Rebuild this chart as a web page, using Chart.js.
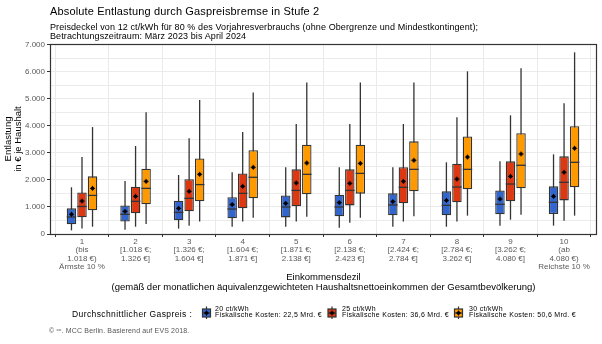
<!DOCTYPE html>
<html><head><meta charset="utf-8">
<script src="https://cdn.jsdelivr.net/npm/chart.js@4.4.1/dist/chart.umd.min.js"></script>
<style>
body{margin:0;width:602px;height:344px;overflow:hidden;background:#fff;font-family:"Liberation Sans",Arial,sans-serif;}
#wrap{position:relative;width:602px;height:344px;}
canvas{position:absolute;left:0;top:0;}
.t{position:absolute;white-space:nowrap;color:#000;}
</style></head><body>
<div id="wrap">
<canvas id="c" width="602" height="344"></canvas>
<div class="t" style="left:50px;top:5px;font-size:11px;line-height:12px;letter-spacing:0.15px;">Absolute Entlastung durch Gaspreisbremse in Stufe 2</div>
<div class="t" style="left:50px;top:22.5px;font-size:9px;line-height:9px;letter-spacing:0.1px;">Preisdeckel von 12 ct/kWh für 80 % des Vorjahresverbrauchs (ohne Obergrenze und Mindestkontingent);<br>Betrachtungszeitraum: März 2023 bis April 2024</div>
<div class="t" style="left:72px;top:309px;font-size:8.5px;line-height:10px;letter-spacing:0.4px;">Durchschnittlicher Gaspreis :</div>
<div class="t" style="left:215px;top:305.5px;font-size:7px;line-height:6.2px;letter-spacing:0.3px;">20 ct/kWh<br>Fiskalische Kosten: 22,5 Mrd. €</div>
<div class="t" style="left:342px;top:305.5px;font-size:7px;line-height:6.2px;letter-spacing:0.3px;">25 ct/kWh<br>Fiskalische Kosten: 36,6 Mrd. €</div>
<div class="t" style="left:469px;top:305.5px;font-size:7px;line-height:6.2px;letter-spacing:0.3px;">30 ct/kWh<br>Fiskalische Kosten: 50,6 Mrd. €</div>
<div class="t" style="left:49px;top:327px;font-size:7px;line-height:8px;color:#555;letter-spacing:0.15px;">© ᶜᶜ. MCC Berlin. Basierend auf EVS 2018.</div>
</div>
<script>
const decile = [1,2,3,4,5,6,7,8,9,10];
const tickLabels = [
  ["1","(bis","1.018 €)","Ärmste 10 %"],
  ["2","[1.018 €;","1.326 €]"],
  ["3","[1.326 €;","1.604 €]"],
  ["4","[1.604 €;","1.871 €]"],
  ["5","[1.871 €;","2.138 €]"],
  ["6","[2.138 €;","2.423 €]"],
  ["7","[2.424 €;","2.784 €]"],
  ["8","[2.784 €;","3.262 €]"],
  ["9","[3.262 €;","4.080 €]"],
  ["10","(ab","4.080 €)","Reichste 10 %"]
];
const yTicks = [0,500,1000,1500,2000,2500,3000,3500,4000,4500,5000,5500,6000,6500,7000];

// 20 ct/kWh
const max20 = [1730,1960,2185,2285,2470,2470,2470,2655,2690,2950];
const q3_20 = [950,1060,1235,1360,1430,1455,1505,1580,1615,1765];
const med20 = [630,730,800,925,1000,1000,1075,1060,1100,1175];
const q1_20 = [360,460,505,580,615,655,690,690,730,740];
const min20 = [135,160,200,270,270,235,270,270,310,310];
const mean20 = [730,840,950,1090,1135,1160,1200,1245,1295,1395];
// 25 ct/kWh
const max25 = [2850,3260,3545,3780,4075,4075,4075,4320,4395,4840];
const q3_25 = [1540,1750,2025,2245,2395,2395,2470,2605,2690,2875];
const med25 = [1020,1210,1320,1505,1615,1615,1730,1740,1850,1915];
const q1_25 = [620,765,840,950,1025,1060,1135,1175,1210,1245];
const min25 = [200,270,310,460,460,420,460,460,530,495];
const mean25 = [1220,1395,1580,1765,1890,1875,1950,2035,2135,2285];
// 30 ct/kWh
const max30 = [3960,4505,4960,5245,5615,5615,5615,6025,6135,6730];
const q3_30 = [2135,2420,2800,3100,3310,3310,3432,3615,3730,3990];
const med30 = [1430,1690,1830,2100,2210,2245,2395,2395,2545,2655];
const q1_30 = [875,1100,1210,1320,1470,1495,1580,1655,1690,1730];
const min30 = [270,370,460,605,640,605,655,680,715,680];
const mean30 = [1690,1950,2210,2470,2630,2615,2730,2850,2965,3175];

const seriesNames = ["20 ct/kWh","25 ct/kWh","30 ct/kWh"];
const colors = ["#3366CC","#DC3912","#FF9900"];

const series = [
  {min:min20,q1:q1_20,med:med20,q3:q3_20,max:max20,mean:mean20},
  {min:min25,q1:q1_25,med:med25,q3:q3_25,max:max25,mean:mean25},
  {min:min30,q1:q1_30,med:med30,q3:q3_30,max:max30,mean:mean30}
];

const EDGE = '#333333';

function drawMean(ctx,x,y){
  ctx.fillStyle='#000';
  ctx.fillRect(x-1.5,y-1.5,3,3);
  ctx.fillRect(x-2.5,y-0.5,5,1);
  ctx.fillRect(x-0.5,y-2.5,1,5);
}

const boxPlugin = {
  id:'boxes',
  beforeDatasetsDraw(chart){
    const ctx=chart.ctx, y=chart.scales.y;
    ctx.save();
    ctx.strokeStyle=EDGE; ctx.lineWidth=1.3;
    series.forEach((s,i)=>{
      chart.getDatasetMeta(i).data.forEach((bar,j)=>{
        ctx.beginPath();
        ctx.moveTo(bar.x, y.getPixelForValue(s.max[j]));
        ctx.lineTo(bar.x, y.getPixelForValue(s.min[j]));
        ctx.stroke();
      });
    });
    ctx.restore();
  },
  afterDatasetsDraw(chart){
    const ctx=chart.ctx, y=chart.scales.y, a=chart.chartArea;
    ctx.save();
    series.forEach((s,i)=>{
      chart.getDatasetMeta(i).data.forEach((bar,j)=>{
        const w=bar.width;
        ctx.strokeStyle=EDGE; ctx.lineWidth=1.3;
        const ym=y.getPixelForValue(s.med[j]);
        ctx.beginPath(); ctx.moveTo(bar.x-w/2, ym); ctx.lineTo(bar.x+w/2, ym); ctx.stroke();
        drawMean(ctx, bar.x, y.getPixelForValue(s.mean[j]));
      });
    });
    ctx.strokeStyle=EDGE; ctx.lineWidth=1.2;
    ctx.strokeRect(Math.round(a.left)+0.5, Math.round(a.top)+0.5, Math.round(a.right-a.left)-1, Math.round(a.bottom-a.top));
    ctx.restore();
  },
  afterDraw(chart){
    const ctx=chart.ctx;
    const lx=[206.5,332,458.5];
    ctx.save();
    lx.forEach((x,i)=>{
      ctx.strokeStyle=EDGE; ctx.lineWidth=1.2;
      ctx.beginPath(); ctx.moveTo(x,306.5); ctx.lineTo(x,319); ctx.stroke();
      ctx.fillStyle=colors[i];
      ctx.fillRect(x-4,309,8,8);
      ctx.strokeRect(x-4,309,8,8);
      ctx.beginPath(); ctx.moveTo(x-4,313); ctx.lineTo(x+4,313); ctx.stroke();
      drawMean(ctx,x,313);
    });
    ctx.restore();
  }
};

Chart.defaults.font.family = '"Liberation Sans", Arial, sans-serif';

new Chart(document.getElementById('c'),{
  type:'bar',
  data:{
    datasets: series.map((s,i)=>({
      label: seriesNames[i],
      data: decile.map((d,j)=>({x:d, y:[s.q1[j], s.q3[j]]})),
      backgroundColor: colors[i],
      borderColor: EDGE,
      borderWidth: 1.3,
      borderSkipped: false,
      categoryPercentage: 0.59,
      barPercentage: 0.9
    }))
  },
  options:{
    responsive:false,
    animation:false,
    devicePixelRatio:1,
    layout:{padding:{top:44,left:0,right:5,bottom:50}},
    plugins:{legend:{display:false},tooltip:{enabled:false}},
    scales:{
      x:{
        type:'linear', min:0.4025, max:10.615, offset:false,
        afterBuildTicks(sc){ sc.ticks = decile.map(v=>({value:v})); },
        afterFit(sc){ sc.height = 60; },
        grid:{color:'#EBEBEB', lineWidth:1, drawTicks:true, tickLength:3, tickColor:EDGE},
        border:{display:false},
        ticks:{autoSkip:false, maxRotation:0, padding:0, color:'#5a5a5a',
          font:{size:8, lineHeight:1.08},
          callback:(v)=>tickLabels[v-1]},
        title:{display:true, text:["Einkommensdezil","(gemäß der monatlichen äquivalenzgewichteten Haushaltsnettoeinkommen der Gesamtbevölkerung)"],
          color:'#000', font:{size:9.5, lineHeight:1.05}, padding:{top:0,bottom:2}}
      },
      y:{
        min:0, max:7037,
        afterBuildTicks(sc){ sc.ticks = yTicks.map(v=>({value:v})); },
        afterFit(sc){ sc.width = 50; },
        grid:{color:'#EBEBEB', lineWidth:1, drawTicks:true, tickLength:3,
          tickColor:(c)=> (c.tick && c.tick.value % 1000 === 0) ? EDGE : 'rgba(0,0,0,0)'},
        border:{display:false},
        ticks:{padding:2, color:'#5a5a5a', font:{size:8},
          callback:(v)=> v % 1000 === 0 ? (v===0 ? '0' : (v/1000)+'.000') : ''},
        title:{display:true, text:["Entlastung","in € je Haushalt"], color:'#000',
          font:{size:9.5, lineHeight:1.0}, padding:{top:4,bottom:0}}
      }
    }
  },
  plugins:[boxPlugin]
});
</script>
</body></html>
